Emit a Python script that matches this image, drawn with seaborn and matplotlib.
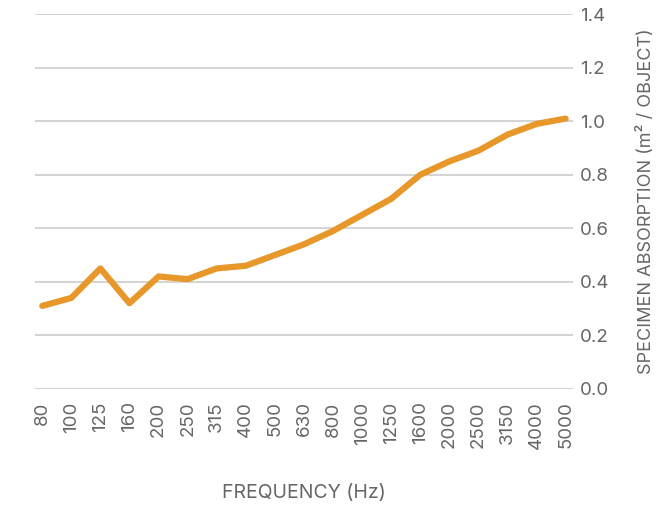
import pandas as pd
import matplotlib.pyplot as plt
import seaborn as sns

# third-octave band centre frequencies and measured absorption per object
frequencies = ['80', '100', '125', '160', '200', '250', '315', '400', '500', '630',
               '800', '1000', '1250', '1600', '2000', '2500', '3150', '4000', '5000']
absorption = [0.31, 0.34, 0.45, 0.32, 0.42, 0.41, 0.45, 0.46, 0.50, 0.54,
              0.59, 0.65, 0.71, 0.80, 0.85, 0.89, 0.95, 0.99, 1.01]
y_ticks = [0.0, 0.2, 0.4, 0.6, 0.8, 1.0, 1.2, 1.4]

df = pd.DataFrame({'Frequency': frequencies, 'Absorption': absorption})

sns.set_style('white')
plt.rcParams['font.family'] = ['Inter', 'DejaVu Sans']
grey = '#666666'

fig = plt.figure(figsize=(6.6, 5.07), dpi=100)
ax = fig.add_axes([0.053, 0.233, 0.815, 0.739])

sns.lineplot(data=df, x='Frequency', y='Absorption', color='#E8982A', linewidth=4.5,
             sort=False, ax=ax)

ax.set_xlim(-0.25, len(frequencies) - 0.75)
ax.set_ylim(0, 1.4)
ax.set_yticks(y_ticks)
ax.set_yticklabels([f'{t:.1f}' for t in y_ticks])
ax.yaxis.tick_right()
ax.yaxis.set_label_position('right')
ax.grid(axis='y', color='#cccccc', linewidth=1.2)
ax.set_axisbelow(True)
for s in ax.spines.values():
    s.set_visible(False)

ax.tick_params(axis='x', labelrotation=90, labelsize=13.5, colors=grey, length=0, pad=9)
ax.tick_params(axis='y', labelsize=13.5, colors=grey, length=0, pad=5)
ax.set_xlabel('FREQUENCY (Hz)', fontsize=14, color=grey, labelpad=25)
ax.set_ylabel('SPECIMEN ABSORPTION (m² / OBJECT)', fontsize=13, color=grey, labelpad=20)

fig.savefig('out.png', dpi=100)
